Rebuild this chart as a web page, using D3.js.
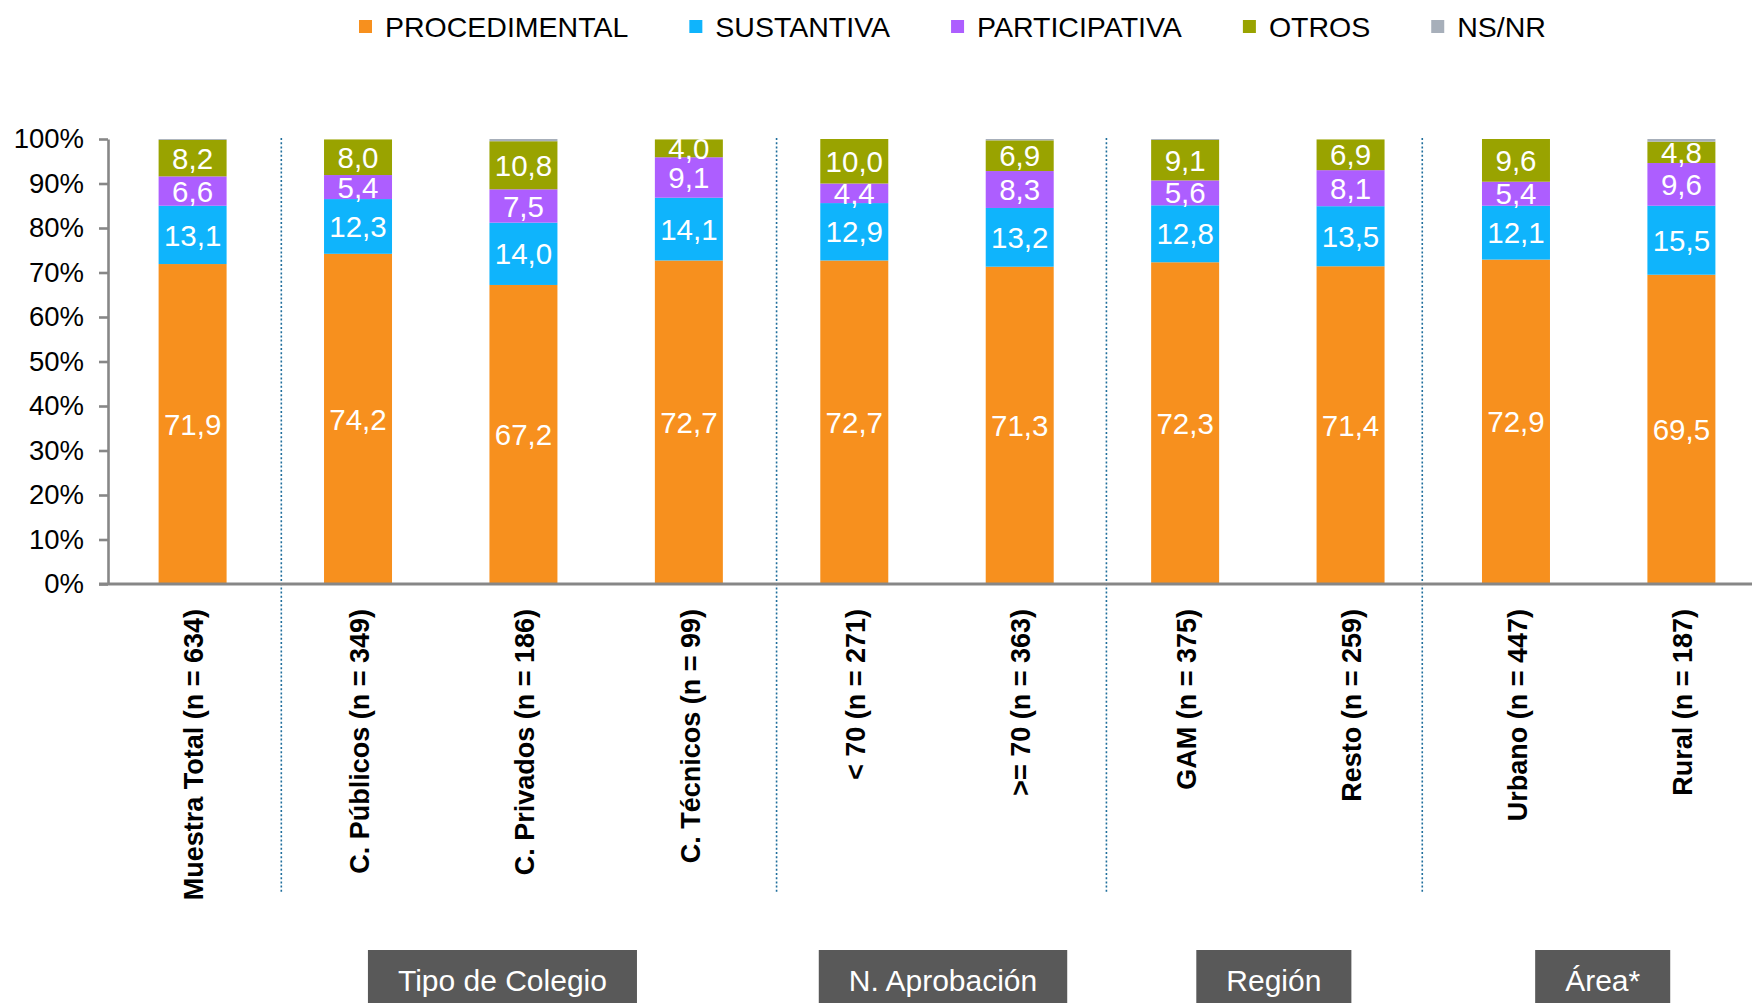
<!DOCTYPE html>
<html>
<head>
<meta charset="utf-8">
<script src="https://cdn.jsdelivr.net/npm/d3@7"></script>
<style>
  html, body { margin: 0; padding: 0; background: #fff; }
  svg { display: block; font-family: "Liberation Sans", Arial, sans-serif; }
</style>
</head>
<body>
<svg id="chart" width="1752" height="1003"></svg>
<script>
// ---------- data ----------
const categories = [
  "Muestra Total (n = 634)", "C. Públicos (n = 349)", "C. Privados (n = 186)",
  "C. Técnicos (n = 99)", "< 70 (n = 271)", ">= 70 (n = 363)",
  "GAM (n = 375)", "Resto (n = 259)", "Urbano (n = 447)", "Rural (n = 187)"
];
const seriesNames = ["PROCEDIMENTAL", "SUSTANTIVA", "PARTICIPATIVA", "OTROS", "NS/NR"];
const procedimental = [71.9, 74.2, 67.2, 72.7, 72.7, 71.3, 72.3, 71.4, 72.9, 69.5];
const sustantiva    = [13.1, 12.3, 14.0, 14.1, 12.9, 13.2, 12.8, 13.5, 12.1, 15.5];
const participativa = [6.6, 5.4, 7.5, 9.1, 4.4, 8.3, 5.6, 8.1, 5.4, 9.6];
const otros         = [8.2, 8.0, 10.8, 4.0, 10.0, 6.9, 9.1, 6.9, 9.6, 4.8];
const nsnr          = [0.2, 0, 0.5, 0, 0, 0.3, 0.2, 0, 0, 0.6];
const yTicks = [0, 10, 20, 30, 40, 50, 60, 70, 80, 90, 100];
const groupLabels = ["Tipo de Colegio", "N. Aprobación", "Región", "Área*"];
const groupMembers = [[1, 3], [4, 5], [6, 7], [8, 9]];   // first, last category index
const separatorsAfter = [0, 3, 5, 7];                     // dotted line after category index

// ---------- styles / layout ----------
const colors = ["#F7901E", "#0FB4FC", "#AD5EFF", "#99A300", "#A7AFBA"];
const showLabel = [true, true, true, true, false];
const svg = d3.select("#chart");

const rows = categories.map((c, i) => ({
  cat: c,
  PROCEDIMENTAL: procedimental[i], SUSTANTIVA: sustantiva[i],
  PARTICIPATIVA: participativa[i], OTROS: otros[i], "NS/NR": nsnr[i]
}));
const stacked = d3.stack().keys(seriesNames)(rows);

const x = d3.scaleBand().domain(categories)
  .range([106, 1768]).paddingInner(0.589).paddingOuter(0.318);
const y = d3.scaleLinear().domain([0, 100]).range([584, 139]);

// dotted separators
const sepDx = [6, 5, 4, -11];
svg.append("g").selectAll("line").data(separatorsAfter).join("line")
  .attr("x1", (d, i) => (x(categories[d]) + x.bandwidth() + x(categories[d + 1])) / 2 + sepDx[i])
  .attr("x2", (d, i) => (x(categories[d]) + x.bandwidth() + x(categories[d + 1])) / 2 + sepDx[i])
  .attr("y1", 138).attr("y2", 894)
  .attr("stroke", "#1F6E9C").attr("stroke-width", 1.6)
  .attr("stroke-dasharray", "2,2.2");

// bars
const layers = svg.append("g").selectAll("g").data(stacked).join("g")
  .attr("fill", (d, i) => colors[i]);
layers.selectAll("rect").data(d => d).join("rect")
  .attr("x", d => x(d.data.cat))
  .attr("width", x.bandwidth())
  .attr("y", d => y(d[1]))
  .attr("height", d => Math.max(0, y(d[0]) - y(d[1])));

// value labels
const lab = svg.append("g");
stacked.forEach((layer, si) => {
  if (!showLabel[si]) return;
  lab.selectAll(null).data(layer).join("text")
    .attr("x", d => x(d.data.cat) + x.bandwidth() / 2)
    .attr("y", d => y((d[0] + d[1]) / 2))
    .attr("dy", "0.36em")
    .attr("text-anchor", "middle")
    .attr("fill", "#fff")
    .attr("font-size", 29.5)
    .text(d => d3.format(".1f")(d[1] - d[0]).replace(".", ","));
});

// y axis
const yAxis = svg.append("g").attr("transform", "translate(108,0)")
  .call(d3.axisLeft(y).tickValues(yTicks).tickFormat(d => d + "%")
    .tickSize(9).tickSizeOuter(0).tickPadding(15));
yAxis.select(".domain").attr("stroke", "#878787").attr("stroke-width", 2.6);
yAxis.selectAll(".tick line").attr("stroke", "#878787").attr("stroke-width", 2.6);
yAxis.selectAll(".tick text").attr("font-size", 27.5).attr("fill", "#000")
  .attr("font-family", "'Liberation Sans', Arial, sans-serif");

// x axis baseline
svg.append("line").attr("x1", 99).attr("x2", 1752)
  .attr("y1", y(0)).attr("y2", y(0))
  .attr("stroke", "#878787").attr("stroke-width", 2.8);

// category labels (rotated)
svg.append("g").selectAll("text").data(categories).join("text")
  .attr("transform", d => `translate(${x(d) + x.bandwidth() / 2 + 1},609) rotate(-90)`)
  .attr("text-anchor", "end")
  .attr("dy", "0.36em")
  .attr("font-size", 27)
  .attr("font-weight", "bold")
  .attr("fill", "#000")
  .text(d => d);

// group boxes
const boxDx = [-21, 6, 6, 4];
const gb = svg.append("g");
groupLabels.forEach((g, i) => {
  const [a, b] = groupMembers[i];
  const cx = (x(categories[a]) + x(categories[b])) / 2 + x.bandwidth() / 2 + boxDx[i];
  const grp = gb.append("g");
  const rect = grp.append("rect").attr("fill", "#595959");
  const t = grp.append("text").attr("x", cx).attr("y", 980).attr("dy", "0.36em")
    .attr("text-anchor", "middle").attr("fill", "#fff").attr("font-size", 30).text(g);
  const w = t.node().getComputedTextLength() + 60;
  rect.attr("x", cx - w / 2).attr("y", 950).attr("width", w).attr("height", 60);
});

// legend
const leg = svg.append("g");
let lx = 359;
seriesNames.forEach((s, i) => {
  leg.append("rect").attr("x", lx).attr("y", 20).attr("width", 13).attr("height", 13)
    .attr("fill", colors[i]);
  const t = leg.append("text").attr("x", lx + 26).attr("y", 27).attr("dy", "0.36em")
    .attr("font-size", 28.5).attr("fill", "#000").text(s);
  lx = lx + 26 + t.node().getComputedTextLength() + 61;
});
</script>
</body>
</html>
